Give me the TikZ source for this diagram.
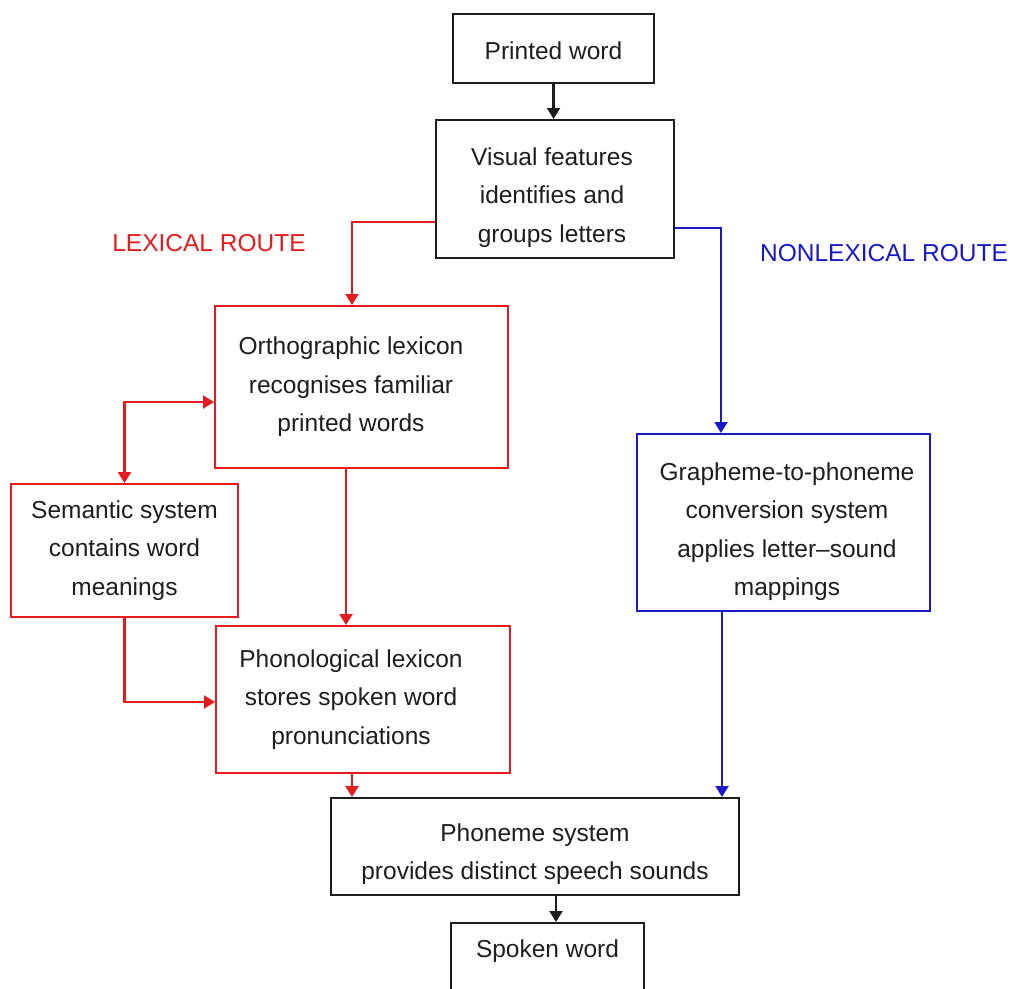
\documentclass[tikz,border=0pt]{standalone}
\usepackage{fontspec}
\setmainfont{Liberation Sans}
\usetikzlibrary{arrows.meta}
\definecolor{ink}{RGB}{30,30,30}
\definecolor{lexred}{RGB}{228,28,32}
\definecolor{nlblue}{RGB}{25,25,200}
\tikzset{
  txt/.style={font=\fontsize{24.5}{38.5}\selectfont, text=ink, align=center},
  box/.style={draw=ink, line width=2pt, fill=white, inner sep=0pt},
  redbox/.style={box, draw=lexred},
  bluebox/.style={box, draw=nlblue},
  tip/.style={-{Triangle[width=13pt,length=11pt]}},
  blk/.style={draw=ink, line width=2.2pt, tip},
  redarr/.style={draw=lexred, line width=2.2pt, tip},
  redboth/.style={draw=lexred, line width=2.2pt, {Triangle[width=13pt,length=11pt]}-{Triangle[width=13pt,length=11pt]}},
  bluearr/.style={draw=nlblue, line width=2.2pt, tip},
}
\begin{document}
\begin{tikzpicture}[x=1pt,y=-1pt]
\useasboundingbox (0,0) rectangle (1012,988);
\clip (0,0) rectangle (1012,988);
\fill[white] (0,0) rectangle (1012,988);

\node[box, minimum width=201pt, minimum height=69pt,
  label={[txt, yshift=-2pt]center:Printed word}] (printed) at (553.5,48.5) {};
\node[box, minimum width=238pt, minimum height=138pt,
  label={[txt, shift={(-3pt,-8.5pt)}]center:Visual features\\identifies and\\groups letters}] (visual) at (555,189) {};
\node[redbox, minimum width=293pt, minimum height=162pt,
  label={[txt, xshift=-10.5pt]center:Orthographic lexicon\\recognises familiar\\printed words}] (ortho) at (361.5,387) {};
\node[redbox, minimum width=227pt, minimum height=133pt,
  label={[txt]center:Semantic system\\contains word\\meanings}] (semantic) at (124.5,550.5) {};
\node[redbox, minimum width=294pt, minimum height=147pt,
  label={[txt, xshift=-12pt]center:Phonological lexicon\\stores spoken word\\pronunciations}] (phono) at (363,699.5) {};
\node[bluebox, minimum width=293pt, minimum height=177pt,
  label={[txt, shift={(3.5pt,-9pt)}]center:Grapheme-to-phoneme\\conversion system\\applies letter--sound\\mappings}] (gp) at (783.5,522.5) {};
\node[box, minimum width=408pt, minimum height=97pt,
  label={[txt, yshift=-7.5pt]center:Phoneme system\\provides distinct speech sounds}] (phoneme) at (535,846.5) {};
\node[box, minimum width=193pt, minimum height=100pt, anchor=north,
  label={[txt, anchor=center, yshift=-29pt]north:Spoken word}] (spoken) at (547.5,922) {};

\node[txt, text=lexred] (lexlabel) at (209,243) {LEXICAL ROUTE};
\node[txt, text=nlblue] (nllabel) at (884,253) {NONLEXICAL ROUTE};

\draw[blk] (printed.south) -- (printed.south |- visual.north);
\draw[redarr] ([yshift=-33pt]visual.west) -| ([xshift=-9.5pt]ortho.north);
\draw[bluearr] ([yshift=-39pt]visual.east) -| ([xshift=-62.5pt]gp.north);
\draw[redboth] ([yshift=-15pt]ortho.west) -| (semantic.north);
\draw[redarr] ([xshift=-15.5pt]ortho.south) -- ([xshift=-15.5pt]ortho.south |- phono.north);
\draw[redarr] (semantic.south) |- ([yshift=-2.5pt]phono.west);
\draw[redarr] ([xshift=-11pt]phono.south) -- ([xshift=-11pt]phono.south |- phoneme.north);
\draw[bluearr] ([xshift=-61.5pt]gp.south) -- ([xshift=-61.5pt]gp.south |- phoneme.north);
\draw[blk] ([xshift=21pt]phoneme.south) -- ([xshift=21pt]phoneme.south |- spoken.north);
\end{tikzpicture}
\end{document}
